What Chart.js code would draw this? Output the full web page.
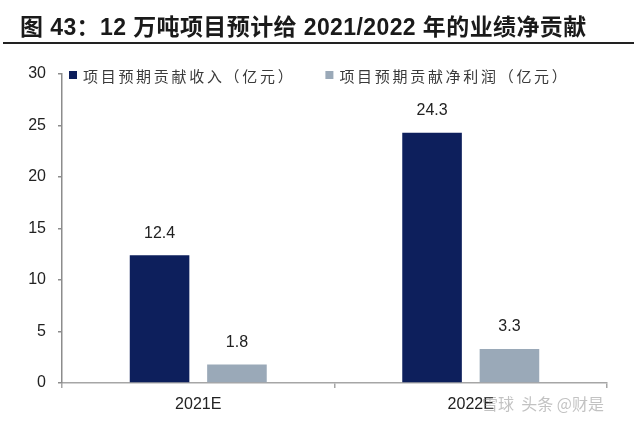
<!DOCTYPE html>
<html lang="zh-CN">
<head>
<meta charset="utf-8">
<script src="https://cdn.jsdelivr.net/npm/chart.js@4.4.1/dist/chart.umd.min.js"></script>
<style>
  html, body { margin: 0; padding: 0; background: #ffffff; }
  #wrap { position: relative; width: 640px; height: 421px; overflow: hidden; }
  #titulo {
    position: absolute; left: 20px; top: 8px; line-height: 28px;
    font: bold 23px "Liberation Sans", "Noto Sans CJK SC", sans-serif;
    letter-spacing: 0.4px;
    color: #1a1a1a; white-space: nowrap;
  }
  #linea { position: absolute; left: 3px; top: 42px; width: 631px; height: 2px; background: #222222; }
  #marca {
    position: absolute; left: 482px; top: 391px; line-height: 22px;
    font: 16px "Noto Sans CJK SC", sans-serif; color: rgba(120, 120, 120, 0.45);
    white-space: nowrap;
  }
  canvas { position: absolute; left: 0; top: 0; }
</style>
</head>
<body>
<div id="wrap">
  <canvas id="graficoContribucion" width="640" height="421"></canvas>
  <div id="titulo">图 43：12 万吨项目预计给 2021/2022 年的业绩净贡献</div>
  <div id="linea"></div>
  <div id="marca">雪球 &nbsp;头条 @财是</div>
</div>
<script>
// datos
const categorias = ["2021E", "2022E"];
const ingresos = [12.4, 24.3];
const beneficioNeto = [1.8, 3.3];
const nombresSeries = ["项目预期贡献收入（亿元）", "项目预期贡献净利润（亿元）"];
const ticksY = [0, 5, 10, 15, 20, 25, 30];

const colorAzul = "#0d1f5c";
const colorGris = "#9aa9b8";
const fuenteNum = "\"Liberation Sans\", Arial, sans-serif";

// leyenda dibujada dentro del área del gráfico, con espaciado entre letras
const leyendaPlugin = {
  id: "leyendaArea",
  afterDraw(chart) {
    const ctx = chart.ctx;
    const area = chart.chartArea;
    let x = area.left + 7;
    const y = area.top + 1;
    ctx.save();
    ctx.font = "15px \"Noto Sans CJK SC\", sans-serif";
    ctx.letterSpacing = "2.7px";
    ctx.textBaseline = "middle";
    ctx.textAlign = "left";
    chart.data.datasets.forEach((ds) => {
      ctx.fillStyle = ds.backgroundColor;
      ctx.fillRect(x, y - 4, 8, 8);
      ctx.fillStyle = "#3a3a3a";
      ctx.fillText(ds.label, x + 14, y + 1);
      x += 14 + ctx.measureText(ds.label).width + 30;
    });
    ctx.restore();
  },
};

// etiquetas de valor encima de cada barra
const etiquetasPlugin = {
  id: "etiquetasValor",
  afterDatasetsDraw(chart) {
    const ctx = chart.ctx;
    ctx.save();
    ctx.font = "16px " + fuenteNum;
    ctx.fillStyle = "#222222";
    ctx.textAlign = "center";
    ctx.textBaseline = "middle";
    chart.data.datasets.forEach((ds, i) => {
      const meta = chart.getDatasetMeta(i);
      meta.data.forEach((bar, j) => {
        ctx.fillText(ds.data[j].toFixed(1), bar.x, bar.y - 22);
      });
    });
    ctx.restore();
  },
};

const ctx = document.getElementById("graficoContribucion").getContext("2d");

new Chart(ctx, {
  type: "bar",
  data: {
    labels: categorias,
    datasets: [
      {
        label: nombresSeries[0],
        data: ingresos,
        backgroundColor: colorAzul,
        categoryPercentage: 0.568,
        barPercentage: 0.77,
      },
      {
        label: nombresSeries[1],
        data: beneficioNeto,
        backgroundColor: colorGris,
        categoryPercentage: 0.568,
        barPercentage: 0.77,
      },
    ],
  },
  options: {
    responsive: false,
    animation: false,
    devicePixelRatio: 1,
    layout: {
      padding: { top: 74, right: 33, bottom: 0, left: 0 },
    },
    plugins: {
      legend: { display: false },
      tooltip: { enabled: false },
    },
    scales: {
      x: {
        grid: {
          display: true,
          drawOnChartArea: false,
          drawTicks: true,
          tickLength: 5,
          color: "#a6a6a6",
          lineWidth: 1.5,
        },
        border: { color: "#a6a6a6", width: 1.5 },
        ticks: {
          color: "#222222",
          padding: 7,
          font: { family: fuenteNum, size: 16 },
        },
        afterFit(scale) {
          scale.height = 38;
        },
      },
      y: {
        min: ticksY[0],
        max: ticksY[ticksY.length - 1],
        grid: {
          display: true,
          drawOnChartArea: false,
          drawTicks: true,
          tickLength: 4,
          color: "#8c8c8c",
          lineWidth: 1.5,
        },
        border: { color: "#8c8c8c", width: 1.5 },
        ticks: {
          stepSize: ticksY[1] - ticksY[0],
          color: "#222222",
          padding: 12,
          font: { family: fuenteNum, size: 16 },
        },
        afterFit(scale) {
          scale.width = 62;
        },
      },
    },
  },
  plugins: [leyendaPlugin, etiquetasPlugin],
});
</script>
</body>
</html>
